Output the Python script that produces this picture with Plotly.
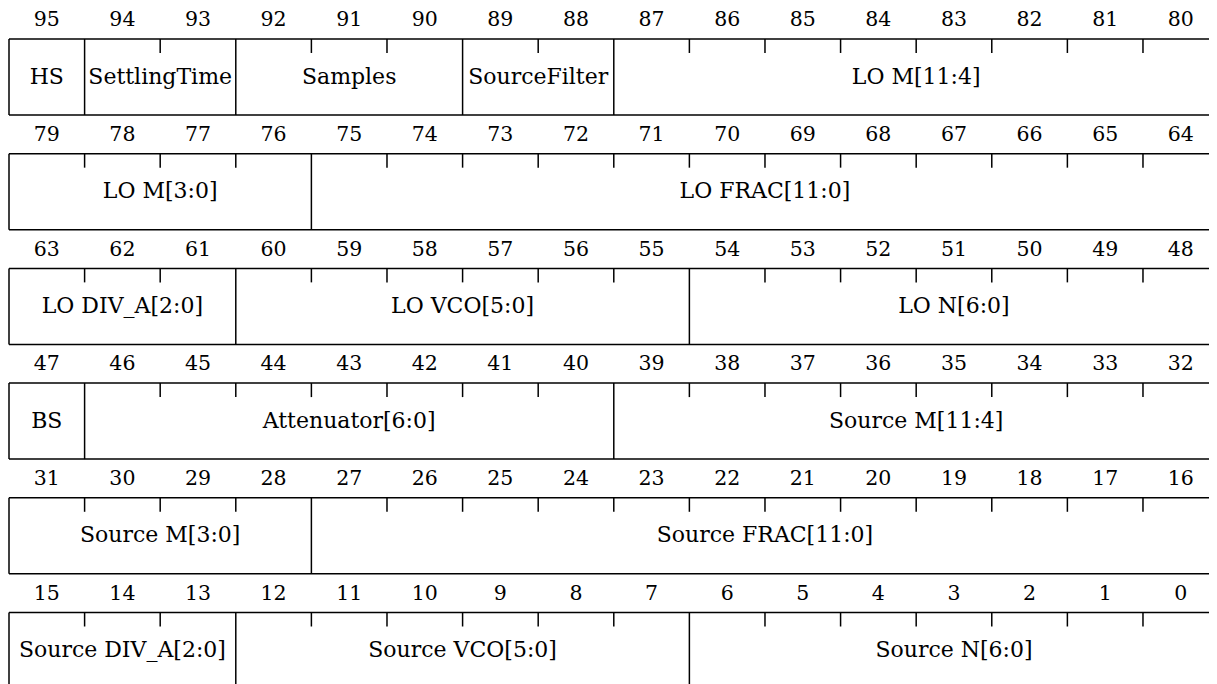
import plotly.graph_objects as go

# ---- data ----
row_msbs = [95, 79, 63, 47, 31, 15]
field_names = ["HS", "SettlingTime", "Samples", "SourceFilter", "LO M[11:4]",
               "LO M[3:0]", "LO FRAC[11:0]",
               "LO DIV_A[2:0]", "LO VCO[5:0]", "LO N[6:0]",
               "BS", "Attenuator[6:0]", "Source M[11:4]",
               "Source M[3:0]", "Source FRAC[11:0]",
               "Source DIV_A[2:0]", "Source VCO[5:0]", "Source N[6:0]"]
field_msb = [95, 94, 92, 89, 87,
             79, 75,
             63, 60, 54,
             47, 46, 39,
             31, 27,
             15, 12, 6]
field_lsb = [95, 93, 90, 88, 80,
             76, 64,
             61, 55, 48,
             47, 40, 32,
             28, 16,
             13, 7, 0]

BITS_PER_ROW = 16
BOX_H = 0.6626      # box height in row units
TICK_H = 0.122      # tick length
LABEL_DY = -0.155   # bit number offset above box
FONT = "DejaVu Serif"
LW = 1.5

fig = go.Figure()

def col(bit, msb):
    return msb - bit  # column index of left edge of bit

lx, ly = [], []
tx, ty, tt = [], [], []
for r, msb in enumerate(row_msbs):
    top, bot = r, r + BOX_H
    lx += [0, BITS_PER_ROW, None, 0, BITS_PER_ROW, None]
    ly += [top, top, None, bot, bot, None]
    bounds = set([0, BITS_PER_ROW])
    for m, l in zip(field_msb, field_lsb):
        if msb - BITS_PER_ROW < m <= msb:
            bounds.add(col(m, msb))
            bounds.add(col(l, msb) + 1)
    for c in range(BITS_PER_ROW + 1):
        if c in bounds:
            lx += [c, c, None]
            ly += [top, bot, None]
        else:
            lx += [c, c, None]
            ly += [top, top + TICK_H, None]
    for i in range(BITS_PER_ROW):
        tx.append(i + 0.5)
        ty.append(top + LABEL_DY)
        tt.append(str(msb - i))

fig.add_trace(go.Scatter(x=lx, y=ly, mode="lines",
                         line=dict(color="black", width=LW),
                         hoverinfo="skip", showlegend=False))
fig.add_trace(go.Scatter(x=tx, y=ty, mode="text", text=tt,
                         textfont=dict(family=FONT, size=20.5, color="black"),
                         textposition="middle center",
                         hoverinfo="skip", showlegend=False))

fx, fy = [], []
for name, m, l in zip(field_names, field_msb, field_lsb):
    rm = next(x for x in row_msbs if x - BITS_PER_ROW < m <= x)
    r = row_msbs.index(rm)
    fx.append((col(m, rm) + col(l, rm) + 1) / 2)
    fy.append(r + BOX_H / 2 + 0.01)
fig.add_trace(go.Scatter(x=fx, y=fy, mode="text", text=field_names,
                         textfont=dict(family=FONT, size=22, color="black"),
                         textposition="middle center",
                         hoverinfo="skip", showlegend=False))

fig.update_layout(
    width=1217, height=684,
    margin=dict(l=0, r=0, t=0, b=0),
    plot_bgcolor="white", paper_bgcolor="white",
    xaxis=dict(range=[-0.0132, 16.085], visible=False, fixedrange=True),
    yaxis=dict(range=[5.693, -0.270], visible=False, fixedrange=True),
)

fig.write_html("out.html")
